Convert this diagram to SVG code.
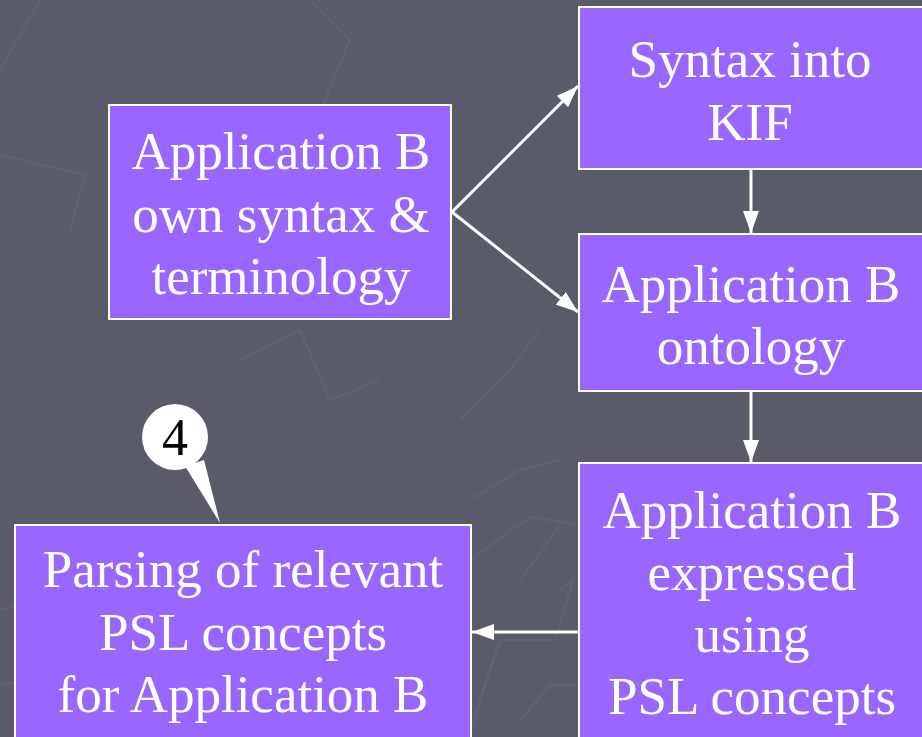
<svg xmlns="http://www.w3.org/2000/svg" width="922" height="737" viewBox="0 0 922 737">
<style>
.box{fill:#9966ff;stroke:#ffffff;stroke-width:2}
.t{font-family:"Liberation Serif","Times New Roman",serif;font-size:53px;fill:#ffffff;text-anchor:middle}
.c{stroke:#ffffff;stroke-width:3;fill:none}
.bg{stroke:#61626f;stroke-width:2;fill:none}
</style>
<defs>
<marker id="arr" viewBox="0 0 22 16" refX="22" refY="8" markerWidth="22" markerHeight="16" markerUnits="userSpaceOnUse" orient="auto">
<path d="M0,0 L22,8 L0,16 z" fill="#ffffff"/>
</marker>
</defs>
<rect width="922" height="737" fill="#5a5b69"/>
<g id="background">
<polyline class="bg" points="40,0 0,70"/>
<polyline class="bg" points="0,155 85,175 70,230"/>
<polyline class="bg" points="310,0 350,40 300,160"/>
<polyline class="bg" points="0,610 130,580"/>
<polyline class="bg" points="0,685 80,670"/>
<polyline class="bg" points="470,560 530,517 580,525"/>
<polyline class="bg" points="560,590 573,580 555,640 500,640 480,700 470,737"/>
<polyline class="bg" points="520,720 550,685 580,685"/>
<polyline class="bg" points="470,500 520,470 560,460"/>
<polyline class="bg" points="460,420 510,370 540,330"/>
<polyline class="bg" points="520,580 560,525"/>
<polyline class="bg" points="240,360 300,330 330,400 380,380"/>
</g>
<g id="connectors">
<line class="c" x1="452" y1="212" x2="578" y2="86" marker-end="url(#arr)"/>
<line class="c" x1="452" y1="212" x2="578" y2="312" marker-end="url(#arr)"/>
<line class="c" x1="751" y1="169" x2="751" y2="233" marker-end="url(#arr)"/>
<line class="c" x1="751" y1="391" x2="751" y2="462" marker-end="url(#arr)"/>
<line class="c" x1="579" y1="632" x2="472" y2="632" marker-end="url(#arr)"/>
</g>
<g id="nodeA">
<rect class="box" x="109" y="105" width="342" height="214"/>
<text class="t" x="281" y="169">Application B</text>
<text class="t" x="281" y="232">own syntax &amp;</text>
<text class="t" x="281" y="294">terminology</text>
</g>
<g id="nodeKIF">
<rect class="box" x="579" y="7" width="350" height="162"/>
<text class="t" x="750" y="77">Syntax into</text>
<text class="t" x="750" y="140">KIF</text>
</g>
<g id="nodeOntology">
<rect class="box" x="579" y="234" width="350" height="157"/>
<text class="t" x="751" y="302">Application B</text>
<text class="t" x="751" y="364">ontology</text>
</g>
<g id="nodeExpressed">
<rect class="box" x="579" y="463" width="350" height="280"/>
<text class="t" x="752" y="528">Application B</text>
<text class="t" x="752" y="590">expressed</text>
<text class="t" x="752" y="652">using</text>
<text class="t" x="752" y="714">PSL concepts</text>
</g>
<g id="nodeParsing">
<rect class="box" x="15" y="525" width="456" height="220"/>
<text class="t" x="243" y="587">Parsing of relevant</text>
<text class="t" x="243" y="650">PSL concepts</text>
<text class="t" x="243" y="712">for Application B</text>
</g>
<g id="callout4">
<path d="M185,466 L220,523 L204,460 Z" fill="#ffffff"/>
<ellipse cx="175" cy="437" rx="33" ry="33" fill="#ffffff"/>
<text x="175" y="455" font-family="Liberation Serif,serif" font-size="52" fill="#000000" text-anchor="middle">4</text>
</g>
</svg>
